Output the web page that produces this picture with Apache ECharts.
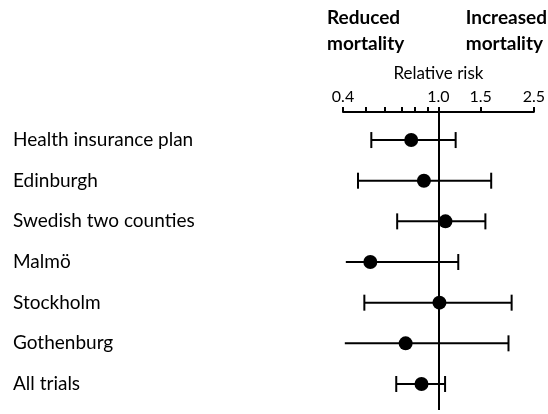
<!DOCTYPE html>
<html>
<head>
<meta charset="utf-8">
<script src="https://cdn.jsdelivr.net/npm/echarts@6/dist/echarts.min.js"></script>
<style>
  html, body { margin: 0; padding: 0; background: #fff; }
  #chart { width: 548px; height: 414px; }
</style>
</head>
<body>
<div id="chart"></div>
<script>
// Screening trials: relative risk of breast cancer mortality with 95% CI
const trials = ['Health insurance plan', 'Edinburgh', 'Swedish two counties', 'Malmö', 'Stockholm', 'Gothenburg', 'All trials'];
const relativeRisk = [0.77, 0.87, 1.07, 0.52, 1.01, 0.73, 0.85];
const ciLower = [0.525, 0.462, 0.673, 0.411, 0.491, 0.407, 0.667];
const ciUpper = [1.18, 1.66, 1.57, 1.21, 2.02, 1.96, 1.066];
// lower interval ends drawn without a cap
const lowerCap = [true, true, true, false, true, false, true];

// relative-risk axis (log scale)
const axisMin = 0.4;
const axisMax = 2.5;
const tickValues = [0.4, 0.5, 0.6, 0.7, 0.8, 0.9, 1.0, 1.5, 2.5];
const tickLabelValues = [0.4, 1.0, 1.5, 2.5];
const tickLabels = ['0.4', '1.0', '1.5', '2.5'];

const FONT = 'Lato, "Open Sans", sans-serif';
const lg = Math.log10;

const chart = echarts.init(document.getElementById('chart'), null, { renderer: 'canvas' });

const barData = trials.map((t, i) => [lg(ciLower[i]), lg(ciUpper[i]), i, lowerCap[i] ? 1 : 0]);
const pointData = trials.map((t, i) => [lg(relativeRisk[i]), i]);

chart.setOption({
  animation: false,
  backgroundColor: '#fff',
  grid: { left: 343, right: 13, top: 112, bottom: 4 },
  xAxis: {
    type: 'value',
    position: 'top',
    min: lg(axisMin),
    max: lg(axisMax),
    name: 'Relative risk',
    nameLocation: 'middle',
    nameGap: 30,
    nameTextStyle: { fontFamily: FONT, fontSize: 17, color: '#000' },
    splitLine: { show: false },
    axisLine: { show: true, onZero: false, lineStyle: { color: '#000', width: 2 } },
    axisTick: {
      show: true,
      length: 5,
      inside: false,
      customValues: tickValues.map(lg),
      lineStyle: { color: '#000', width: 2 }
    },
    axisLabel: {
      customValues: tickLabelValues.map(lg),
      margin: 7,
      fontFamily: FONT,
      fontSize: 16,
      color: '#000',
      formatter: v => {
        let best = 0;
        tickLabelValues.forEach((tv, k) => {
          if (Math.abs(lg(tv) - v) < Math.abs(lg(tickLabelValues[best]) - v)) best = k;
        });
        return tickLabels[best];
      }
    }
  },
  yAxis: {
    type: 'value',
    inverse: true,
    min: -0.69,
    max: 6.64,
    axisLine: { show: false },
    axisTick: { show: false },
    splitLine: { show: false },
    axisLabel: {
      customValues: trials.map((t, i) => i),
      formatter: v => trials[Math.round(v)] || '',
      align: 'left',
      margin: 330,
      fontFamily: FONT,
      fontSize: 19,
      color: '#000'
    }
  },
  graphic: [
    {
      type: 'text', left: 327, top: 5,
      style: { text: 'Reduced\nmortality', fontFamily: FONT, fontSize: 19, fontWeight: 'bold', fill: '#000', lineHeight: 26 }
    },
    {
      type: 'text', right: 1, top: 5,
      style: { text: 'Increased\nmortality', fontFamily: FONT, fontSize: 19, fontWeight: 'bold', fill: '#000', lineHeight: 26, align: 'right' }
    }
  ],
  series: [
    {
      type: 'custom',
      data: barData,
      renderItem: (params, api) => {
        const a = api.coord([api.value(0), api.value(2)]);
        const b = api.coord([api.value(1), api.value(2)]);
        const h = 8;
        const style = { stroke: '#000', lineWidth: 2, fill: null };
        const children = [
          { type: 'line', shape: { x1: a[0], y1: a[1], x2: b[0], y2: b[1] }, style },
          { type: 'line', shape: { x1: b[0], y1: b[1] - h, x2: b[0], y2: b[1] + h }, style }
        ];
        if (api.value(3)) {
          children.push({ type: 'line', shape: { x1: a[0], y1: a[1] - h, x2: a[0], y2: a[1] + h }, style });
        }
        return { type: 'group', children };
      },
      z: 2
    },
    {
      type: 'scatter',
      data: pointData,
      symbol: 'circle',
      symbolSize: 14,
      itemStyle: { color: '#000', opacity: 1 },
      z: 4,
      markLine: {
        silent: true,
        symbol: 'none',
        label: { show: false },
        lineStyle: { color: '#000', width: 2, type: 'solid' },
        data: [{ xAxis: 0 }]
      }
    }
  ]
});
</script>
</body>
</html>
